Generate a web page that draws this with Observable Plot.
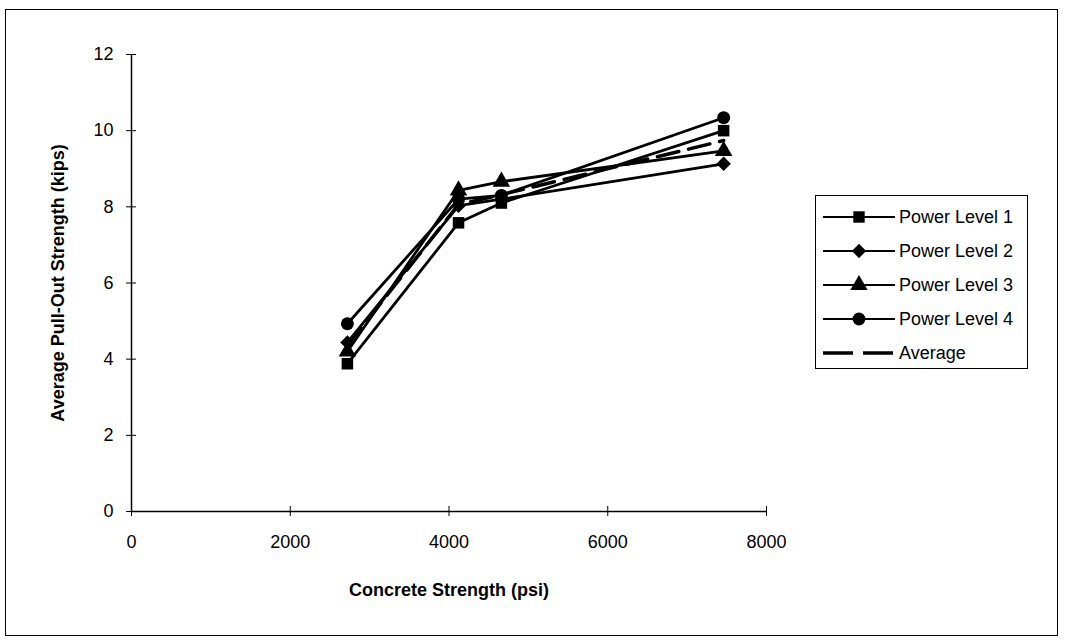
<!DOCTYPE html>
<html>
<head>
<meta charset="utf-8">
<script src="https://cdn.jsdelivr.net/npm/d3@7"></script>
<script src="https://cdn.jsdelivr.net/npm/@observablehq/plot@0.6"></script>
<style>
  html, body { margin: 0; padding: 0; background: #fff; }
  #wrap { position: relative; width: 1066px; height: 643px; overflow: hidden; font-family: "Liberation Sans", Arial, sans-serif; }
  #frame { position: absolute; left: 5px; top: 9px; width: 1053px; height: 627px; border: 1.5px solid #000; box-sizing: border-box; pointer-events: none; }
  #chart svg { position: absolute; left: 0; top: 0; }
  [aria-label$="axis label"] text, g[aria-label$="axis label"] { font-weight: bold; }
  #legend { position: absolute; left: 815px; top: 195px; width: 213px; height: 174px; border: 1.5px solid #000; box-sizing: border-box; background: #fff; padding-top: 4px; }
  .item { display: flex; align-items: center; height: 34px; font-size: 18px; color: #000; }
  .item svg { margin-left: 5px; margin-right: 2px; }
</style>
</head>
<body>
<div id="wrap">
  <div id="chart"></div>
  <div id="legend"></div>
  <div id="frame"></div>
</div>
<script>
// Data
const strength = [2720, 4120, 4660, 7460];
const level1 = [3.88, 7.58, 8.10, 10.00];
const level2 = [4.44, 8.03, 8.20, 9.13];
const level3 = [4.20, 8.43, 8.66, 9.47];
const level4 = [4.93, 8.20, 8.30, 10.34];
const average = [4.36, 8.06, 8.32, 9.74];
const seriesNames = ["Power Level 1", "Power Level 2", "Power Level 3", "Power Level 4", "Average"];
const symbols = ["square", "diamond2", "triangle", "circle", null];
const xTicks = [0, 2000, 4000, 6000, 8000];
const yTicks = [0, 2, 4, 6, 8, 10, 12];

const allValues = [level1, level2, level3, level4, average];
const rows = [];
allValues.forEach((vals, i) => {
  vals.forEach((v, j) => rows.push({series: seriesNames[i], x: strength[j], y: v, symbol: symbols[i]}));
});
const markerRows = rows.filter(d => d.symbol);

const plot = Plot.plot({
  width: 1066,
  height: 643,
  marginLeft: 131,
  marginRight: 300,
  marginTop: 54,
  marginBottom: 132,
  style: {fontFamily: "'Liberation Sans', Arial, sans-serif", fontSize: "18px", color: "#000", background: "transparent"},
  x: {domain: [0, 8000]},
  y: {domain: [0, 12]},
  marks: [
    Plot.ruleX([0], {stroke: "#000", strokeWidth: 1.5}),
    Plot.ruleY([0], {stroke: "#000", strokeWidth: 1.5}),
    // crossing ticks
    Plot.axisX({ticks: xTicks, tickSize: 10, dy: -5, text: null, label: null, strokeWidth: 1}),
    Plot.axisX({ticks: xTicks, tickSize: 0, tickPadding: 24, tickFormat: d => String(d),
      label: "Concrete Strength (psi)", labelAnchor: "center", labelOffset: 84, labelArrow: "none"}),
    Plot.axisY({ticks: yTicks, tickSize: 10, dx: 5, text: null, label: null, strokeWidth: 1}),
    Plot.axisY({ticks: yTicks, tickSize: 0, tickPadding: 18, tickFormat: d => String(d),
      label: "Average Pull-Out Strength (kips)", labelAnchor: "center", labelOffset: 80, labelArrow: "none"}),
    Plot.line(rows.filter(d => d.series !== "Average"), {x: "x", y: "y", z: "series", stroke: "#000", strokeWidth: 2.8}),
    Plot.line(rows.filter(d => d.series === "Average"), {x: "x", y: "y", stroke: "#000", strokeWidth: 3.5, strokeDasharray: "22,10"}),
    Plot.dot(markerRows, {x: "x", y: "y", symbol: "symbol", fill: "#000", stroke: "none", r: 6.5})
  ]
});
document.getElementById("chart").appendChild(plot);

// Legend
const legend = document.getElementById("legend");
const symGen = {
  square: d3.symbolSquare, diamond2: d3.symbolDiamond2, triangle: d3.symbolTriangle, circle: d3.symbolCircle
};
seriesNames.forEach((name, i) => {
  const item = document.createElement("div");
  item.className = "item";
  const ns = "http://www.w3.org/2000/svg";
  const svg = document.createElementNS(ns, "svg");
  svg.setAttribute("width", 76);
  svg.setAttribute("height", 20);
  const line = document.createElementNS(ns, "line");
  line.setAttribute("x1", 2); line.setAttribute("x2", 74);
  line.setAttribute("y1", 10); line.setAttribute("y2", 10);
  line.setAttribute("stroke", "#000");
  if (symbols[i]) {
    line.setAttribute("stroke-width", 2);
  } else {
    line.setAttribute("stroke-width", 3.5);
    line.setAttribute("stroke-dasharray", "30,10");
  }
  svg.appendChild(line);
  if (symbols[i]) {
    const p = document.createElementNS(ns, "path");
    p.setAttribute("d", d3.symbol(symGen[symbols[i]], 130)());
    p.setAttribute("transform", "translate(38,10)");
    p.setAttribute("fill", "#000");
    svg.appendChild(p);
  }
  item.appendChild(svg);
  const t = document.createElement("span");
  t.textContent = name;
  item.appendChild(t);
  legend.appendChild(item);
});
</script>
</body>
</html>
